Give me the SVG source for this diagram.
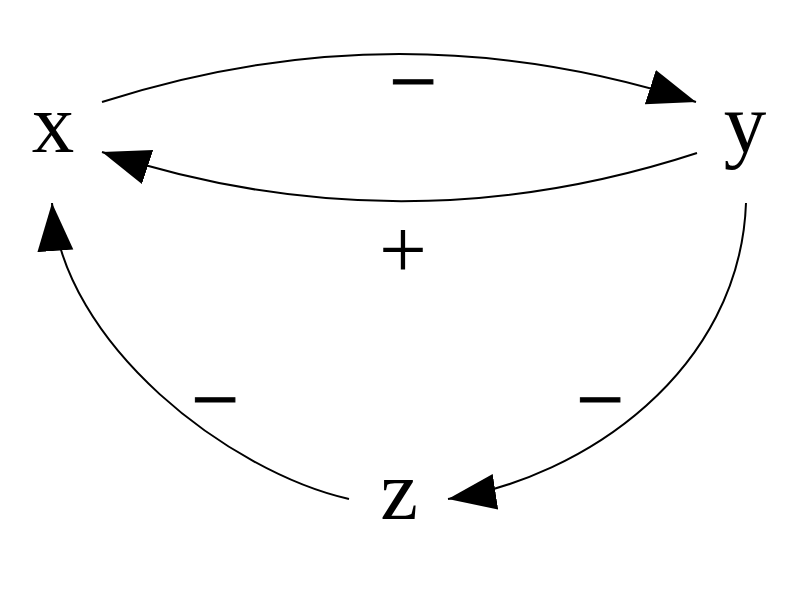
<svg xmlns="http://www.w3.org/2000/svg" width="800" height="600" viewBox="0 0 800 600">
<style>
.lbl{font-family:"Liberation Serif","Times New Roman",serif;font-size:85px;fill:#000;text-anchor:middle}
.sign{stroke:#000;stroke-width:1}
.edge{fill:none;stroke:#000;stroke-width:2}
</style>
<defs>
<marker id="arr" markerUnits="userSpaceOnUse" markerWidth="50" markerHeight="38" refX="48" refY="18" orient="auto" viewBox="0 0 50 38">
<path d="M0,0 L48,18 L0,36 z" fill="#000"/>
</marker>
</defs>
<rect width="800" height="600" fill="#fff"/>
<g id="connectors">
<path class="edge" d="M102,102 Q400,6 696,102" marker-end="url(#arr)"/>
<path class="edge" d="M697,153 Q400,250 102,152" marker-end="url(#arr)"/>
<path class="edge" d="M746,203 C740,370 585,478 448,499" marker-end="url(#arr)"/>
<path class="edge" d="M349,499 C230,472 62,345 52,203" marker-end="url(#arr)"/>
</g>
<g id="labels">
<text class="lbl sign" x="413" y="110">−</text>
<text class="lbl" x="403" y="278">+</text>
<text class="lbl sign" x="215" y="428">−</text>
<text class="lbl sign" x="600" y="428">−</text>
</g>
<g id="node-x"><text class="lbl" x="53" y="152">x</text></g>
<g id="node-y"><text class="lbl" x="745" y="152">y</text></g>
<g id="node-z"><text class="lbl" x="399" y="519">z</text></g>
</svg>
